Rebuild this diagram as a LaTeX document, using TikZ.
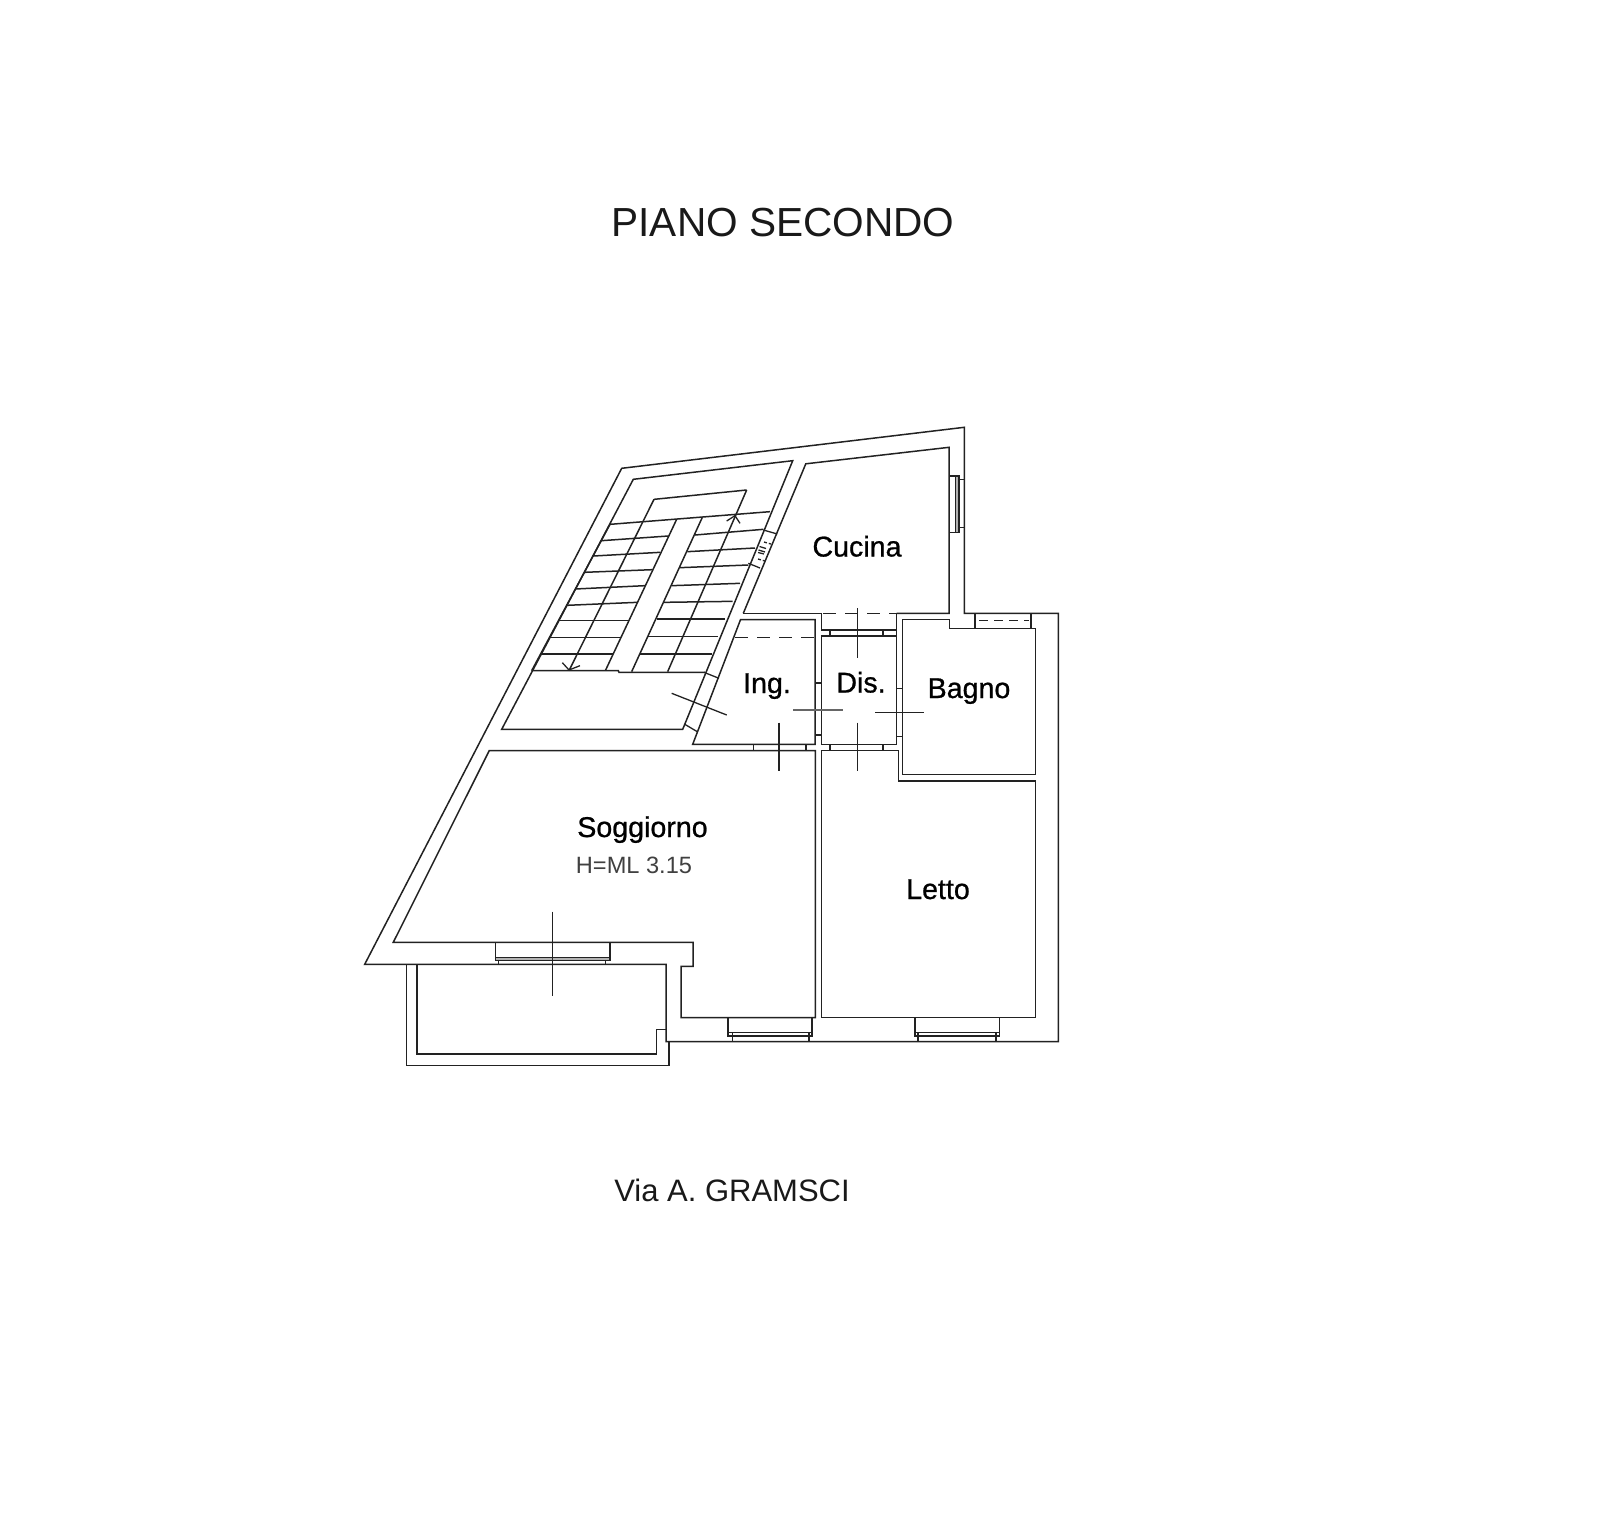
\documentclass[tikz,border=0pt]{standalone}
\usepackage{fontspec}
\setmainfont{Liberation Sans}
\newfontfamily\roomfont[FakeBold=0.8]{Liberation Sans}
\definecolor{ink}{HTML}{222222}
\definecolor{soft}{HTML}{666666}
\tikzset{
  wall/.style={draw=ink,line width=1.5pt,line join=miter},
  faint/.style={draw=soft,line width=1.3pt},
  thinline/.style={draw=ink,line width=1.3pt},
  dash wall/.style={draw=ink,line width=1.5pt,dash pattern=on 13pt off 9pt},
  room/.style={anchor=base,inner sep=0pt,font=\roomfont\fontsize{28.6}{30}\selectfont,text=black},
  plainlabel/.style={anchor=base,inner sep=0pt,text=black!90}
}
\begin{document}
\begin{tikzpicture}[x=1pt,y=-1pt]
\useasboundingbox (0,0) rectangle (1620,1526);
% outer walls
\draw[wall] (364.7,964.3) -- (621.7,468.3) -- (964.3,427.3) -- (964.3,613.3) -- (1058.3,613.3) -- (1058.3,1041.7) -- (666,1041.7) -- (666,964.3) -- cycle;
% soggiorno
\draw[wall] (489.3,750.5) -- (815.3,750.5) -- (815.3,1017.7) -- (681,1017.7) -- (681,966.3) -- (693,966.3) -- (693,942.3) -- (393.3,942.3) -- cycle;
% letto
\draw[wall] (821.3,750.5) -- (898.3,750.5) -- (898.3,781) -- (1035.7,781) -- (1035.7,1017.7) -- (821.3,1017.7) -- cycle;
% bagno
\draw[wall] (902.7,619.7) -- (949.3,619.7) -- (949.3,628.3) -- (1035.7,628.3) -- (1035.7,774.7) -- (902.7,774.7) -- cycle;
\draw[wall] (975,613.3) -- (975,628.3) (1031,613.3) -- (1031,628.3);
\draw[dash wall,dash pattern=on 9pt off 6pt] (979,620.7) -- (1029,620.7);
% cucina
\draw[wall] (743.3,613.3) -- (805.8,463.8) -- (949.2,447.3) -- (949.2,613.3) -- (896.7,613.3);
\draw[wall] (743.3,613.3) -- (821.7,613.3) -- (821.7,630) -- (896.7,630);
\draw[wall] (896.7,613.3) -- (896.7,744.3);
\draw[dash wall] (823,613.3) -- (896.7,613.3);
% dis
\draw[wall] (896.7,636) -- (821.7,636) -- (821.7,744.3) -- (896.7,744.3);
\draw[wall] (830,630) -- (830,636) (883,630) -- (883,636);
\draw[wall] (830,744.3) -- (830,750.5) (883,744.3) -- (883,750.5);
% ing
\draw[wall] (692.7,744.3) -- (740.5,619.7) -- (815,619.7) -- (815,744.3) -- cycle;
\draw[dash wall] (735,637.3) -- (815,637.3);
\draw[wall] (753.3,744.3) -- (753.3,750.5) (806,744.3) -- (806,750.5);
\draw[wall] (815,683) -- (821.7,683) (815,735) -- (821.7,735);
\draw[wall] (896.7,688.7) -- (902.7,688.7) (896.7,736.7) -- (902.7,736.7);
% stair well
\draw[wall] (682.7,729.3) -- (792.7,460.7) -- (633.3,479.3) -- (501.7,729.3) -- cycle;
\draw[thinline] (704,672.3) -- (719,678.3) (684.3,724) -- (697.3,731.7);
\draw[thinline] (763.3,530) -- (777.3,534) (748.3,563.3) -- (760,568);
\draw[thinline,densely dashed] (764,542) -- (771,544) (758,559) -- (765,561);
\draw[thinline] (759.5,546.5) -- (766,548.5) (758.5,550) -- (765,552) (758,552.5) -- (764,554);
% stairs, coordinates in 3x units
\begin{scope}[shift={(500,420)},x=0.33333pt,y=-0.33333pt]
\draw[wall] (462,238) -- (740,210) (462,238) -- (207,752);
\draw[wall] (740,210) -- (503,755);
\draw[wall] (530,298) -- (316,752);
\draw[wall] (607,292) -- (395,755);
\draw[wall] (95,752) -- (355,752) -- (357,757) -- (615,757);
\draw[wall] (330,313) -- (810,275);
\draw[wall] (330,313) -- (95,752);
\foreach \xa/\ya/\xb/\yb in {305/362/505/348,280/408/480/397,252/457/458/449,226/507/435/497,200/556/412/547,173/602/388/602,148/652/362/652,122/702/338/702,585/345/790/328,562/395/765/384,540/443/745/435,515/497/720/490,492/547/698/544,470/597/675/597,445/650/655/650,420/702/635/702}
  \draw[wall] (\xa,\ya) -- (\xb,\yb);
\draw[thinline] (680,303) -- (705,287) -- (720,310);
\draw[thinline] (187,728) -- (207,750) -- (240,737);
\end{scope}
% windows
\draw[wall] (495.7,942.3) -- (495.7,960.6) (610,960.6) -- (610,942.3);
\draw[wall,fill=black!30] (495.7,957.3) rectangle (610,960.6);
\draw[wall] (498.3,960.6) -- (498.3,964.3) (605.7,960.6) -- (605.7,964.3);
\foreach \a/\b/\c/\d in {728/812/732.3/809,915/999.3/918/996}{
  \draw[wall] (\a,1017.7) -- (\a,1036) -- (\b,1036) -- (\b,1017.7);
  \draw[wall] (\a,1032.7) -- (\b,1032.7);
  \draw[wall] (\c,1032.7) -- (\c,1041.7) (\d,1032.7) -- (\d,1041.7);
}
\draw[wall] (949.2,476) -- (959,476) -- (959,532.3) -- (949.2,532.3);
\draw[wall,fill=black!30] (955.7,476) rectangle (959,532.3);
\draw[wall] (959,479.3) -- (964.3,479.3) (959,527.3) -- (964.3,527.3);
% balcony
\draw[wall] (406.7,964.3) -- (406.7,1065.7) -- (669,1065.7) -- (669,1041.7);
\draw[wall] (417,964.3) -- (417,1054) -- (656.7,1054) -- (656.7,1029.3) -- (666,1029.3);
% door crosses
\draw[thinline] (671.7,693.3) -- (726.7,715);
\draw[faint] (793.3,710) -- (843.3,710);
\draw[thinline] (779,722.7) -- (779,770.7);
\draw[thinline] (857.3,608.3) -- (857.3,657.7);
\draw[thinline] (857.3,722.7) -- (857.3,770.7);
\draw[thinline] (875,712.7) -- (924.3,712.7);
\draw[thinline] (552.7,911.7) -- (552.7,995.7);
% labels
\node[plainlabel,font=\fontsize{40.6}{44}\selectfont] (title) at (783,236.5) {PIANO SECONDO};
\node[plainlabel,font=\fontsize{31}{34}\selectfont] (street) at (732,1201) {Via A. GRAMSCI};
\node[room] (soggiorno) at (642.5,837) {Soggiorno};
\node[plainlabel,font=\fontsize{23.6}{26}\selectfont,text=black!75] (height) at (634,873.5) {H=ML 3.15};
\node[room] (cucina) at (857,556.5) {Cucina};
\node[room] (ing) at (767,693) {Ing.};
\node[room] (dis) at (861,692.5) {Dis.};
\node[room] (bagno) at (969,698) {Bagno};
\node[room] (letto) at (938,899) {Letto};
\end{tikzpicture}
\end{document}
